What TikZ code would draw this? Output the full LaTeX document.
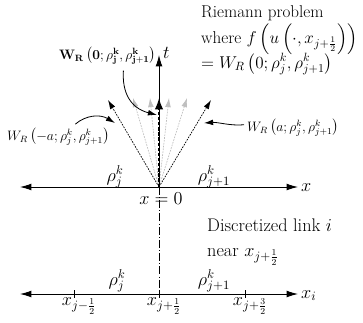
\RequirePackage{fix-cm}
\documentclass[tikz,border=0pt]{standalone}
\usepackage{amsmath,amssymb}
\usetikzlibrary{arrows.meta,calc}
\newcommand\BigLab{\fontsize{16}{19}\selectfont}
\newcommand\RieLab{\fontsize{15}{18}\selectfont}
\begin{document}
\begin{tikzpicture}[x=0.877pt,y=-0.877pt,
  axis/.style={line width=0.8pt,{Latex[length=10pt,width=6pt]}-{Latex[length=10pt,width=6pt]}},
  fanblack/.style={dash pattern=on 1.5pt off 1pt,line width=0.6pt,-{Latex[length=8pt,width=5pt]}},
  fangray/.style={dash pattern=on 1.5pt off 1pt,black!25,line width=0.6pt,-{Latex[length=8pt,width=5pt]}},
  pointer/.style={line width=0.7pt,-{Latex[length=8pt,width=5pt]}},
  tick/.style={line width=0.8pt},
  biglab/.style={font=\BigLab,inner sep=0pt},
  rielab/.style={font=\RieLab,inner sep=0pt,anchor=base west},
  midlab/.style={font=\large,inner sep=0pt}]
\useasboundingbox (0,0) rectangle (363,322);
% top axis
\coordinate (O) at (159,187);
\coordinate (L) at (20,187);
\coordinate (R) at (298,187);
\coordinate (T) at (159,55);
\draw[axis] (L) -- (R);
\node[biglab,anchor=base west] (xl) at (301,191) {$x$};
% fan
\foreach \n/\px in {g1/133,g2/150,g3/169,g4/187}{
  \coordinate (\n) at (\px,98);
  \draw[fangray] (O) -- (\n);
}
\coordinate (fl) at (108,100);
\coordinate (fr) at (211,100);
\draw[fanblack] (O) -- (fl);
\draw[fanblack] (O) -- (fr);
\draw[line width=0.8pt,-{Latex[length=10pt,width=6pt]}] (O) -- (T);
\coordinate (c0) at (159,98);
\draw[dash pattern=on 3pt off 1.5pt,line width=1.6pt,-{Latex[length=10pt,width=7.5pt]}] (O) -- (c0);
\node[biglab,anchor=base west] (tl) at (163,58) {$t$};
% labels
\node[biglab,anchor=base] (rjl) at (115,181) {$\rho_j^k$};
\node[biglab,anchor=base] (rjr) at (214,181) {$\rho_{j+1}^k$};
\node[biglab,anchor=base] (x0) at (161,204) {$x = 0$};
% pointer labels
\node[midlab,anchor=base west] (wl) at (7,140) {$W_R\left(-a;\rho_j^k,\rho_{j+1}^k\right)$};
\node[midlab,anchor=base west] (wr) at (247,131) {$W_R\left(a;\rho_j^k,\rho_{j+1}^k\right)$};
\node[midlab,anchor=base east] (wb) at (156,59) {$\mathbf{W_R\left(0;\rho_j^k,\rho_{j+1}^k\right)}$};
\coordinate (pl) at (115,123);
\coordinate (pr) at (204,123);
\coordinate (pb) at (157,115);
\draw[pointer] ($(wl.north)+(17,-4)$) .. controls (86,115) and (100,114) .. (pl);
\draw[pointer] ($(wr.west)+(-3,-3)$) .. controls (230,126) and (218,122) .. (pr);
\draw[pointer] ($(wb.south)+(16,6)$) .. controls (122,92) and (130,108) .. (pb);
% Riemann text
\node[rielab] (r1) at (201,17) {Riemann problem};
\node[rielab] (r2) at (201,43) {where $f\left(u\left(\cdot,x_{j+\frac12}\right)\right)$};
\node[rielab] (r3) at (201,68) {$=W_R\left(0;\rho_j^k,\rho_{j+1}^k\right)$};
% dash-dot
\coordinate (B) at (159,294);
\draw[dash pattern=on 7pt off 2pt on 0.6pt off 2pt,line width=0.6pt] (O) -- (B);
% discretized
\node[biglab,anchor=base west] (d1) at (207,231) {Discretized link $i$};
\node[biglab,anchor=base west] (d2) at (207,256) {near $x_{j+\frac12}$};
% bottom axis
\coordinate (BL) at (20,294);
\coordinate (BR) at (298,294);
\draw[axis] (BL) -- (BR);
\node[biglab,anchor=base west] (xil) at (301,298) {$x_i$};
\foreach \n/\px/\lab in {ta/74/{x_{j-\frac12}},tb/159/{x_{j+\frac12}},tc/245/{x_{j+\frac32}}}{
  \coordinate (\n) at (\px,294);
  \draw[tick] ($(\n)+(0,-4)$) -- ($(\n)+(0,4)$);
  \node[biglab,anchor=base] (\n l) at ($(\n)+(5,11)$) {$\lab$};
}
\node[biglab,anchor=base] (bjl) at (117,285) {$\rho_j^k$};
\node[biglab,anchor=base] (bjr) at (214,285) {$\rho_{j+1}^k$};
\end{tikzpicture}
\end{document}
